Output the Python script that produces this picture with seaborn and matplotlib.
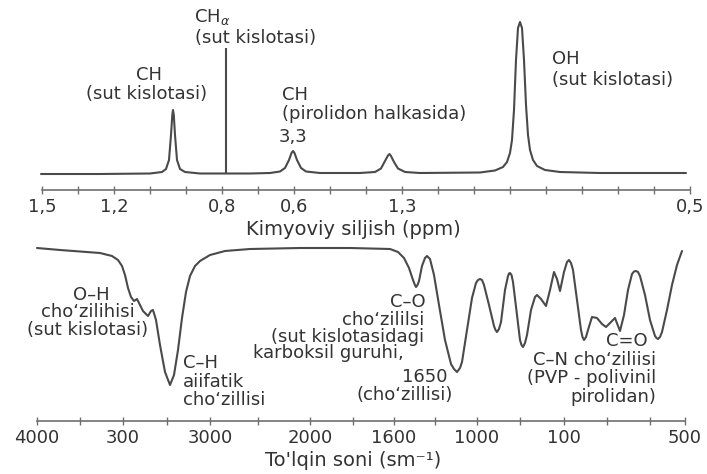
import matplotlib
matplotlib.use("Agg")
import seaborn as sns
import matplotlib.pyplot as plt

# --- NMR spectrum (top panel): position along axis, intensity (a.u.)
nmr_pos = [41, 100, 150, 162, 166, 169, 171, 172.3, 173, 173.8, 175, 177, 180, 185, 200,
           250, 270, 280, 285, 289, 291.5, 293, 294.5, 297, 301, 306, 320,
           360, 375, 381, 385, 388, 389.5, 391, 394, 398, 405, 420,
           480, 495, 503, 507, 510, 512, 514, 516, 518, 520, 522, 524, 526, 528, 530,
           533, 537, 545, 560, 600, 686]
nmr_int = [0, 0, 0.5, 2, 5, 14, 39, 59, 64, 59, 39, 14, 5, 2, 0.5,
           0.5, 1, 2.5, 6, 14, 21, 23, 21, 14, 6, 2.5, 1,
           1, 2, 5.5, 13, 18.5, 20, 18, 12, 5.5, 2, 1,
           1.5, 3.5, 7, 12, 21, 34, 64, 114, 146, 152, 146, 114, 69, 39, 24,
           14, 8, 4, 2, 1, 1]
cha_pos = 226      # CH alpha singlet
cha_height = 126

nmr_ticks = [42 + 36 * i for i in range(19)]
nmr_ticklabels = ["1,5", "", "1,2", "", "", "0,8", "", "0,6", "", "", "1,3",
                  "", "", "", "", "", "", "", "0,5"]

# --- IR spectrum (bottom panel): position along axis, transmittance (a.u.)
ir_pos = [37, 60, 80, 100, 112, 118, 122, 125, 128, 131, 134, 137, 140, 143, 146, 148,
          151, 153, 156, 160, 165, 170, 174, 178, 182, 186, 190, 195, 200, 210, 225,
          250, 300, 350, 390, 398, 404, 409, 413, 414.5, 416, 417.5, 419, 422, 425, 427,
          430, 434, 439, 445, 451, 454, 457, 460, 462, 467, 472, 476, 478, 480, 482,
          484, 489, 494, 495.5, 497, 499, 501, 505, 508, 509, 510, 511.5, 513, 517, 520,
          521.5, 523, 525, 527, 531, 535, 537, 541, 546, 550, 554, 557, 560, 564, 567,
          569, 571, 573, 577, 581, 582.5, 584, 586, 588, 592, 597, 602, 606, 611, 615,
          620, 624, 628, 632, 634, 636, 638, 640, 645, 650, 655, 656.5, 658, 660, 662,
          667, 672, 677, 682]
ir_trans = [173, 171, 169.5, 168, 165, 161, 155, 146, 133, 124, 120, 122, 116, 110, 107, 105,
            110, 111, 101, 76, 49, 36, 46, 71, 103, 129, 145, 155, 160, 166, 170,
            172, 173, 173, 172, 169, 163, 153, 141, 137, 134, 136, 140, 155, 163, 165,
            162, 146, 116, 81, 57, 52, 49, 53, 59, 91, 123, 138, 141, 142, 141,
            136, 116, 95, 91, 89, 92, 99, 131, 145, 147.5, 148, 146, 139, 106, 81,
            76, 74, 78, 86, 111, 124, 126, 122, 115, 131, 149, 142, 130, 149, 159,
            161, 158, 151, 121, 91, 84, 81, 84, 91, 104, 103, 97, 94, 99, 103,
            90, 106, 131, 147, 149.5, 150, 149, 145, 126, 101, 85, 83, 82, 84, 89,
            111, 136, 156, 170]

ir_ticks = [37, 80, 123, 167, 210, 258, 310, 353, 394, 435, 477, 520, 564, 607, 650, 685]
ir_ticklabels = ["4000", "", "300", "", "3000", "", "2000", "", "1600", "", "1000",
                 "", "100", "", "", "500"]

line_col = "#4a4a4a"
text_col = "#333333"
axis_col = "#707070"
fs = 13

sns.set_theme(style="white")
plt.rcParams["font.family"] = ["DejaVu Sans"]

fig = plt.figure(figsize=(7.07, 4.74), dpi=100)
ax_nmr = fig.add_axes([0, 1 - 190 / 474, 1, 190 / 474])
ax_ir = fig.add_axes([0, 1 - 421 / 474, 1, (421 - 236) / 474])

sns.lineplot(x=nmr_pos, y=nmr_int, ax=ax_nmr, color=line_col, linewidth=1.5,
             estimator=None, sort=False)
ax_nmr.vlines(cha_pos, 0, cha_height, color=line_col, linewidth=1.5)
sns.lineplot(x=ir_pos, y=ir_trans, ax=ax_ir, color=line_col, linewidth=1.5,
             estimator=None, sort=False)

ax_nmr.set_ylim(-16, 174)
ax_ir.set_ylim(0, 185)

for ax, ticks, labels, xlabel in [
        (ax_nmr, nmr_ticks, nmr_ticklabels, "Kimyoviy siljish (ppm)"),
        (ax_ir, ir_ticks, ir_ticklabels, "To'lqin soni (sm⁻¹)")]:
    ax.set_xlim(0, 707)
    ax.set_facecolor("none")
    for s in ["top", "left", "right"]:
        ax.spines[s].set_visible(False)
    ax.spines["bottom"].set_bounds(ticks[0], ticks[-1])
    ax.spines["bottom"].set_color(axis_col)
    ax.spines["bottom"].set_linewidth(1.2)
    ax.set_yticks([])
    ax.set_ylabel("")
    ax.set_xticks(ticks)
    ax.set_xticklabels(labels)
    ax.tick_params(axis="x", direction="inout", length=6, width=1, color=axis_col,
                   labelsize=fs, labelcolor=text_col, pad=3, bottom=True)
    ax.set_xlabel(xlabel, fontsize=14, color=text_col, labelpad=3)

# NMR annotations
t = dict(fontsize=fs, color=text_col, va="center")
ax_nmr.text(212, 157, r"CH$_\alpha$", ha="center", **t)
ax_nmr.text(256, 136, "(sut kislotasi)", ha="center", **t)
ax_nmr.text(149, 99, "CH", ha="center", **t)
ax_nmr.text(147, 80, "(sut kislotasi)", ha="center", **t)
ax_nmr.text(282, 79, "CH", ha="left", **t)
ax_nmr.text(282, 60, "(pirolidon halkasida)", ha="left", **t)
ax_nmr.text(293, 37, "3,3", ha="center", **t)
ax_nmr.text(552, 115, "OH", ha="left", **t)
ax_nmr.text(552, 94, "(sut kislotasi)", ha="left", **t)

# IR annotations
ax_ir.text(91, 126, "O–H", ha="center", **t)
ax_ir.text(88, 109, "choʻzilihisi", ha="center", **t)
ax_ir.text(88, 91, "(sut kislotasi)", ha="center", **t)
ax_ir.text(183, 58, "C–H", ha="left", **t)
ax_ir.text(183, 39, "aiifatik", ha="left", **t)
ax_ir.text(183, 21, "choʻzillisi", ha="left", **t)
ax_ir.text(426, 119, "C–O", ha="right", **t)
ax_ir.text(424, 101, "choʻzililsi", ha="right", **t)
ax_ir.text(424, 84, "(sut kislotasidagi", ha="right", **t)
ax_ir.text(404, 68, "karboksil guruhi,", ha="right", **t)
ax_ir.text(425, 44, "1650", ha="center", **t)
ax_ir.text(405, 26, "(choʻzillisi)", ha="center", **t)
ax_ir.text(627, 80, "C=O", ha="center", **t)
ax_ir.text(656, 61, "C–N choʻziliisi", ha="right", **t)
ax_ir.text(656, 43, "(PVP - polivinil", ha="right", **t)
ax_ir.text(656, 24, "pirolidan)", ha="right", **t)

fig.savefig("out.png", dpi=100, facecolor="white")
